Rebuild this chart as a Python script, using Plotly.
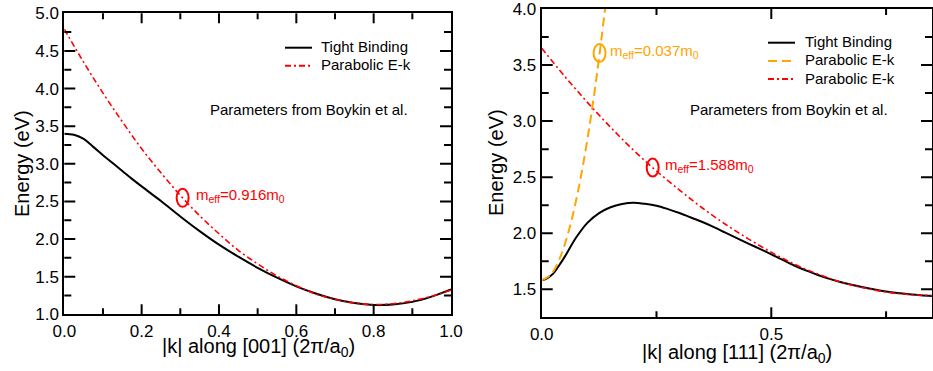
import math
import plotly.graph_objects as go

# ---- band data, Si conduction band along [001] ----
k_001 = [0.000, 0.025, 0.050, 0.075, 0.100, 0.125, 0.150, 0.175, 0.200, 0.250,
         0.300, 0.350, 0.400, 0.450, 0.500, 0.550, 0.600, 0.650, 0.700, 0.750,
         0.800, 0.850, 0.900, 0.950, 1.000]
E_tb_001 = [3.400, 3.385, 3.330, 3.225, 3.115, 3.010, 2.905, 2.800, 2.700, 2.505,
            2.300, 2.105, 1.925, 1.765, 1.618, 1.487, 1.372, 1.276, 1.200, 1.150,
            1.125, 1.130, 1.165, 1.235, 1.330]
k_001_fit = [0.00, 0.05, 0.10, 0.15, 0.20, 0.25, 0.30, 0.35, 0.40, 0.45, 0.50,
             0.55, 0.60, 0.65, 0.70, 0.75, 0.80, 0.85, 0.90, 0.95, 1.00]
E_par_001 = [4.79, 4.35, 3.94, 3.56, 3.20, 2.88, 2.58, 2.31, 2.07, 1.85, 1.67,
             1.51, 1.38, 1.27, 1.20, 1.15, 1.13, 1.14, 1.18, 1.24, 1.32]

# ---- band data along [111] ----
k_111 = [0.0000, 0.0125, 0.0250, 0.0375, 0.0500, 0.0750, 0.1000, 0.1250, 0.1500,
         0.1750, 0.2000, 0.2250, 0.2500, 0.2750, 0.3000, 0.3250, 0.3500, 0.3750,
         0.4000, 0.4250, 0.4500, 0.4750, 0.5000, 0.5250, 0.5500, 0.5750, 0.6000,
         0.6250, 0.6500, 0.6750, 0.7000, 0.7250, 0.7500, 0.7750, 0.8000, 0.8250,
         0.8500]
E_tb_111 = [1.580, 1.600, 1.640, 1.710, 1.789, 1.962, 2.095, 2.180, 2.232,
            2.260, 2.271, 2.262, 2.245, 2.215, 2.180, 2.140, 2.100, 2.055,
            2.005, 1.957, 1.908, 1.860, 1.812, 1.762, 1.712, 1.668, 1.630,
            1.595, 1.565, 1.540, 1.518, 1.498, 1.480, 1.466, 1.455, 1.446,
            1.440]
k_111_light = [0.00, 0.02, 0.04, 0.06, 0.08, 0.10, 0.12, 0.14]
E_par_111_light = [1.580, 1.631, 1.783, 2.037, 2.393, 2.850, 3.409, 4.069]
k_111_heavy = [0.00, 0.05, 0.10, 0.15, 0.20, 0.25, 0.30, 0.35, 0.40, 0.45,
               0.50, 0.55, 0.60, 0.65, 0.70, 0.75, 0.80, 0.85]
E_par_111_heavy = [3.65, 3.40, 3.165, 2.945, 2.74, 2.555, 2.385, 2.225, 2.08, 1.95,
                   1.83, 1.725, 1.638, 1.567, 1.514, 1.476, 1.453, 1.445]

# effective-mass labels: (k at which the fit is marked, label text)
mass_001 = (0.306, "m<sub>eff</sub>=0.916m<sub>0</sub>")
mass_111_light = (0.126, "m<sub>eff</sub>=0.037m<sub>0</sub>")
mass_111_heavy = (0.2417, "m<sub>eff</sub>=1.588m<sub>0</sub>")

legend_names = ["Tight Binding", "Parabolic E-k"]
x_titles = ["|k| along [001] (2π/a<sub>0</sub>)", "|k| along [111] (2π/a<sub>0</sub>)"]
y_title = "Energy (eV)"

RED = "#ff0000"
ORANGE = "#ffa500"
RED_DASH = "6px,3px,2px,3px"
ORANGE_DASH = "9px,5px"
FONT = "Liberation Sans, Arial, Helvetica, sans-serif"
W, H = 933, 371

# panel frames in page pixels: (left, right, top, bottom)
FRAME_1 = (64.3, 451.0, 13.3, 314.3)
FRAME_2 = (541.7, 932.0, 9.0, 317.3)


def interp(xs, ys, x):
    for i in range(len(xs) - 1):
        if xs[i] <= x <= xs[i + 1]:
            t = (x - xs[i]) / (xs[i + 1] - xs[i])
            return ys[i] + t * (ys[i + 1] - ys[i])
    return ys[-1]


fig = go.Figure()

fig.add_trace(go.Scatter(x=k_001, y=E_tb_001, mode="lines", name=legend_names[0],
                         line=dict(color="black", width=2, shape="spline"),
                         xaxis="x", yaxis="y"))
fig.add_trace(go.Scatter(x=k_001_fit, y=E_par_001, mode="lines", name=legend_names[1],
                         line=dict(color=RED, width=1.6, dash=RED_DASH, shape="spline"),
                         xaxis="x", yaxis="y"))

fig.add_trace(go.Scatter(x=k_111, y=E_tb_111, mode="lines", name=legend_names[0],
                         line=dict(color="black", width=2, shape="spline"),
                         xaxis="x2", yaxis="y2"))
fig.add_trace(go.Scatter(x=k_111_light, y=E_par_111_light, mode="lines", name=legend_names[1],
                         line=dict(color=ORANGE, width=2, dash=ORANGE_DASH, shape="spline"),
                         xaxis="x2", yaxis="y2"))
fig.add_trace(go.Scatter(x=k_111_heavy, y=E_par_111_heavy, mode="lines", name=legend_names[1],
                         line=dict(color=RED, width=1.6, dash=RED_DASH, shape="spline"),
                         xaxis="x2", yaxis="y2"))

annotations = []
shapes = []


# ---- inward tick marks on all four sides of each frame ----
def tick_values(lo, hi, step):
    n0 = math.ceil(lo / step - 1e-9)
    n1 = math.floor(hi / step + 1e-9)
    vals = [round(n * step, 6) for n in range(n0, n1 + 1)]
    return [v for v in vals if lo + 1e-9 < v < hi - 1e-9]


def frame_ticks(xa, ya, xr, yr, xmaj, xmin, ymaj, ymin, frame):
    left, right, top, bottom = frame
    wpx, hpx = right - left, bottom - top
    xmajor = tick_values(xr[0], xr[1], xmaj)
    ymajor = tick_values(yr[0], yr[1], ymaj)
    xticks = [(v, 10) for v in xmajor] + \
             [(v, 6) for v in tick_values(xr[0], xr[1], xmin) if v not in xmajor]
    yticks = [(v, 11) for v in ymajor] + \
             [(v, 7) for v in tick_values(yr[0], yr[1], ymin) if v not in ymajor]
    out = []
    for v, ln in xticks:
        f = ln / hpx
        for y0, y1 in ((0, f), (1, 1 - f)):
            out.append(dict(type="line", xref=xa, yref=ya + " domain", x0=v, x1=v,
                            y0=y0, y1=y1, line=dict(color="black", width=2)))
    for v, ln in yticks:
        f = ln / wpx
        for x0, x1 in ((0, f), (1, 1 - f)):
            out.append(dict(type="line", xref=xa + " domain", yref=ya, x0=x0, x1=x1,
                            y0=v, y1=v, line=dict(color="black", width=2)))
    return out


shapes += frame_ticks("x", "y", (0, 1), (1, 5), 0.2, 0.1, 0.5, 0.25, FRAME_1)
shapes += frame_ticks("x2", "y2", (0, 0.85), (1.25, 4.0), 0.5, 0.25, 0.5, 0.25, FRAME_2)

# ellipses marking where each effective mass is evaluated, with their labels
marks = [
    (mass_001, k_001_fit, E_par_001, "x", "y", RED, 11),
    (mass_111_light, k_111_light, E_par_111_light, "x2", "y2", ORANGE, 8),
    (mass_111_heavy, k_111_heavy, E_par_111_heavy, "x2", "y2", RED, 10),
]
for (kk, label), xs, ys, xr, yr, col, dx in marks:
    ee = interp(xs, ys, kk)
    shapes.append(dict(type="circle", xref=xr, yref=yr, xsizemode="pixel",
                       ysizemode="pixel", xanchor=kk, yanchor=ee,
                       x0=-6, x1=6, y0=-9, y1=9,
                       line=dict(color=col, width=2)))
    annotations.append(dict(x=kk, y=ee, xref=xr, yref=yr, text=label,
                            showarrow=False, xanchor="left", yanchor="middle",
                            xshift=dx, yshift=2, font=dict(size=15, color=col, family=FONT)))

# in-plot legends: (line x-start px, text x px, row y px, name, colour, dash)
legend_rows = [
    (285, 319, 47.7, legend_names[0], "black", "solid"),
    (285, 319, 65.7, legend_names[1], RED, RED_DASH),
    (768, 803, 42.7, legend_names[0], "black", "solid"),
    (768, 803, 61.0, legend_names[1], ORANGE, ORANGE_DASH),
    (768, 803, 79.0, legend_names[1], RED, RED_DASH),
]
for lx, tx, ly, name, col, dash in legend_rows:
    shapes.append(dict(type="line", xref="paper", yref="paper",
                       x0=lx / W, x1=(lx + 27) / W, y0=1 - ly / H, y1=1 - ly / H,
                       line=dict(color=col, width=2, dash=dash)))
    annotations.append(dict(x=tx / W, y=1 - ly / H, xref="paper", yref="paper",
                            text=name, showarrow=False, xanchor="left", yanchor="middle",
                            yshift=1, font=dict(size=15, color="black", family=FONT)))

annotations.append(dict(x=0.372, y=3.724, xref="x", yref="y",
                        text="Parameters from Boykin et al.", showarrow=False,
                        xanchor="left", yanchor="middle",
                        font=dict(size=15, color="black", family=FONT)))
annotations.append(dict(x=0.319, y=3.108, xref="x2", yref="y2",
                        text="Parameters from Boykin et al.", showarrow=False,
                        xanchor="left", yanchor="middle",
                        font=dict(size=15, color="black", family=FONT)))

# axis titles, placed in page pixels
title_font = dict(size=20, family=FONT, color="black")
for text, cx, cy, angle in [(x_titles[0], 258.5, 347, 0), (x_titles[1], 737, 353, 0),
                            (y_title, 22, 164, -90), (y_title, 496, 163, -90)]:
    annotations.append(dict(x=cx / W, y=1 - cy / H, xref="paper", yref="paper",
                            text=text, textangle=angle, showarrow=False,
                            xanchor="center", yanchor="middle", font=title_font))


def axis_style(**kw):
    base = dict(showline=True, linewidth=2, linecolor="black", mirror=True,
                ticks="", showgrid=False, zeroline=False, automargin=False,
                ticklabeloverflow="allow", tickformat=".1f", tick0=0,
                tickfont=dict(size=17, family=FONT, color="black"))
    base.update(kw)
    return base


def domain_x(frame):
    return [frame[0] / W, frame[1] / W]


def domain_y(frame):
    return [(H - frame[3]) / H, (H - frame[2]) / H]


fig.update_layout(
    template="none",
    width=W, height=H,
    margin=dict(l=0, r=0, t=0, b=0, autoexpand=False),
    paper_bgcolor="white", plot_bgcolor="white",
    font=dict(family=FONT, color="black"),
    showlegend=False,
    xaxis=axis_style(domain=domain_x(FRAME_1), range=[0, 1], dtick=0.2, anchor="y"),
    yaxis=axis_style(domain=domain_y(FRAME_1), range=[1, 5], dtick=0.5, anchor="x"),
    xaxis2=axis_style(domain=domain_x(FRAME_2), range=[0, 0.85], dtick=0.5, anchor="y2"),
    yaxis2=axis_style(domain=domain_y(FRAME_2), range=[1.25, 4.0], dtick=0.5, anchor="x2"),
    annotations=annotations,
    shapes=shapes,
)

fig.write_html("out.html")
